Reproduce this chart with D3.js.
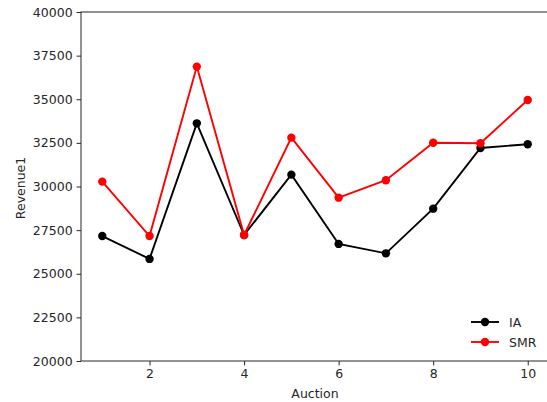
<!DOCTYPE html>
<html>
<head>
<script src="https://d3js.org/d3.v7.min.js"></script>
<style>
  body { margin: 0; background: #fff; }
  svg { display: block; overflow: hidden; }
  text { font-family: "DejaVu Sans", sans-serif; fill: #262626; }
</style>
</head>
<body>
<script>
// data
var auctions = [1, 2, 3, 4, 5, 6, 7, 8, 9, 10];
var iaRevenue = [27160, 25850, 33620, 27220, 30680, 26710, 26170, 28730, 32210, 32420];
var smrRevenue = [30280, 27160, 36870, 27220, 32800, 29360, 30360, 32510, 32480, 34960];
var yTicks = [20000, 22500, 25000, 27500, 30000, 32500, 35000, 37500, 40000];
var xTicks = [2, 4, 6, 8, 10];

var width = 547, height = 402;
var mLeft = 81, mRight = 549, mTop = 12, mBottom = 361;

var svg = d3.select('body')
  .append('svg')
  .attr('width', width)
  .attr('height', height);

var x = d3.scaleLinear().domain([0.55, 10.45]).range([mLeft, mRight]);
var y = d3.scaleLinear().domain([20000, 40000]).range([mBottom, mTop]);

// axes
var xAxis = d3.axisBottom(x).tickValues(xTicks).tickSize(4.4).tickPadding(4).tickSizeOuter(0);
var yAxis = d3.axisLeft(y).tickValues(yTicks).tickFormat(d3.format('d'))
  .tickSize(4.4).tickPadding(4).tickSizeOuter(0);

var gx = svg.append('g')
  .attr('transform', 'translate(0,' + mBottom + ')')
  .call(xAxis);
var gy = svg.append('g')
  .attr('transform', 'translate(' + mLeft + ',0)')
  .call(yAxis);

[gx, gy].forEach(function (g) {
  g.select('.domain').remove();
  g.selectAll('.tick line').attr('stroke', '#262626').attr('stroke-width', 1);
  g.selectAll('.tick text').style('font-size', '12.5px').attr('fill', '#262626')
    .style('font-family', '"DejaVu Sans", sans-serif');
});

// frame (spines)
svg.append('rect')
  .attr('x', mLeft).attr('y', mTop)
  .attr('width', mRight - mLeft).attr('height', mBottom - mTop)
  .attr('fill', 'none').attr('stroke', '#262626').attr('stroke-width', 1);

// labels
svg.append('text')
  .attr('x', (mLeft + mRight) / 2).attr('y', 398)
  .attr('text-anchor', 'middle')
  .style('font-size', '12.5px')
  .text('Auction');

svg.append('text')
  .attr('transform', 'translate(25,188) rotate(-90)')
  .attr('text-anchor', 'middle')
  .style('font-size', '12.5px')
  .text('Revenue1');

// series
var series = [
  { name: 'IA', values: iaRevenue, color: '#000000' },
  { name: 'SMR', values: smrRevenue, color: '#ff0000' }
];

var line = d3.line()
  .x(function (d, i) { return x(auctions[i]); })
  .y(function (d) { return y(d); });

series.forEach(function (s) {
  svg.append('path')
    .datum(s.values)
    .attr('d', line)
    .attr('fill', 'none')
    .attr('stroke', s.color)
    .attr('stroke-width', 1.9);

  svg.append('g')
    .selectAll('circle')
    .data(s.values)
    .enter()
    .append('circle')
    .attr('cx', function (d, i) { return x(auctions[i]); })
    .attr('cy', function (d) { return y(d); })
    .attr('r', 4.2)
    .attr('fill', s.color);
});

// legend
var legend = svg.append('g');
series.forEach(function (s, i) {
  var ly = 322 + i * 20;
  legend.append('line')
    .attr('x1', 471).attr('x2', 499)
    .attr('y1', ly).attr('y2', ly)
    .attr('stroke', s.color).attr('stroke-width', 1.9);
  legend.append('circle')
    .attr('cx', 485).attr('cy', ly).attr('r', 4.2)
    .attr('fill', s.color);
  legend.append('text')
    .attr('x', 509).attr('y', ly + 4.5)
    .style('font-size', '12.5px')
    .text(s.name);
});
</script>
</body>
</html>
